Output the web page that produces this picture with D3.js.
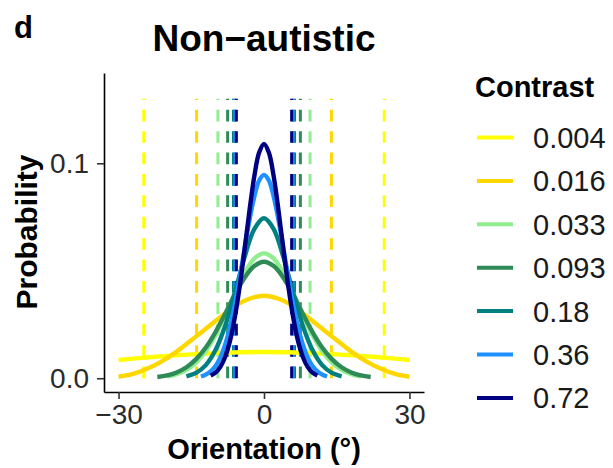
<!DOCTYPE html>
<html>
<head>
<meta charset="utf-8">
<script src="https://cdn.jsdelivr.net/npm/d3@7"></script>
<style>
  body { margin: 0; background: #fff; }
  text { font-family: "Liberation Sans", Arial, sans-serif; }
</style>
</head>
<body>
<div id="chart"></div>
<script>
// contrast levels, one curve + one pair of dashed lines per level
let contrasts = ["0.004", "0.016", "0.033", "0.093", "0.18", "0.36", "0.72"]
let colors = ["#FFFF00", "#FFD700", "#90EE90", "#2E8B57", "#008080", "#1E90FF", "#000080"]

// curve samples, one x list and one y list per contrast
let xs004 = [-30, -25, -20, -15, -10, -5, 0, 5, 10, 15, 20, 25, 30]
let ys004 = [0.0085, 0.0095, 0.0104, 0.0111, 0.0117, 0.0121, 0.0122, 0.0121, 0.0117, 0.0111, 0.0104, 0.0095, 0.0085]

let xs016 = [-30, -27, -24, -21, -18, -15, -12, -9, -6, -3, 0, 3, 6, 9, 12, 15, 18, 21, 24, 27, 30]
let ys016 = [0.0007, 0.0020, 0.0045, 0.0080, 0.0124, 0.0177, 0.0230, 0.0285, 0.0336, 0.0370, 0.0384,
             0.0370, 0.0336, 0.0285, 0.0230, 0.0177, 0.0124, 0.0080, 0.0045, 0.0020, 0.0007]

let xs033 = [-20, -18, -16, -14, -12, -10, -8, -6, -4, -2, 0, 2, 4, 6, 8, 10, 12, 14, 16, 18, 20]
let ys033 = [0.0008, 0.0019, 0.0039, 0.0073, 0.0126, 0.0201, 0.0295, 0.0397, 0.0490, 0.0557, 0.0581,
             0.0557, 0.0490, 0.0397, 0.0295, 0.0201, 0.0126, 0.0073, 0.0039, 0.0019, 0.0008]

let xs093 = [-22, -20, -18, -16, -14, -12, -10, -8, -6, -4, -2, 0, 2, 4, 6, 8, 10, 12, 14, 16, 18, 20, 22]
let ys093 = [0.0006, 0.0013, 0.0027, 0.0051, 0.0089, 0.0143, 0.0215, 0.0300, 0.0389, 0.0468, 0.0522, 0.0542,
             0.0522, 0.0468, 0.0389, 0.0300, 0.0215, 0.0143, 0.0089, 0.0051, 0.0027, 0.0013, 0.0006]

let xs18 = [-16, -14, -12, -10, -8, -6, -4, -2, 0, 2, 4, 6, 8, 10, 12, 14, 16]
let ys18 = [0.0009, 0.0025, 0.0061, 0.0131, 0.0244, 0.0398, 0.0563, 0.0694, 0.0744,
            0.0694, 0.0563, 0.0398, 0.0244, 0.0131, 0.0061, 0.0025, 0.0009]

let xs36 = [-13, -12, -11, -10, -9, -8, -7, -6, -5, -4, -3, -2, -1, 0, 1, 2, 3, 4, 5, 6, 7, 8, 9, 10, 11, 12, 13]
let ys36 = [0.0008, 0.0017, 0.0032, 0.0057, 0.0097, 0.0157, 0.0239, 0.0344, 0.0469, 0.0604, 0.0735, 0.0845, 0.0920, 0.0946,
            0.0920, 0.0845, 0.0735, 0.0604, 0.0469, 0.0344, 0.0239, 0.0157, 0.0097, 0.0057, 0.0032, 0.0017, 0.0008]

let xs72 = [-11, -10, -9, -8, -7, -6, -5, -4, -3, -2, -1, 0, 1, 2, 3, 4, 5, 6, 7, 8, 9, 10, 11]
let ys72 = [0.0012, 0.0026, 0.0053, 0.0100, 0.0175, 0.0285, 0.0429, 0.0600, 0.0779, 0.0939, 0.1050, 0.1090,
            0.1050, 0.0939, 0.0779, 0.0600, 0.0429, 0.0285, 0.0175, 0.0100, 0.0053, 0.0026, 0.0012]

// dashed threshold lines (± value), drawn from 0 up to dashTop
let thresholds = [24.8, 13.9, 9.5, 7.5, 6.3, 6.0, 5.7]
let dashTop = 0.13

let xTicks = [-30, 0, 30]
let yTicks = [0, 0.1]

let curveX = [xs004, xs016, xs033, xs093, xs18, xs36, xs72]
let curveY = [ys004, ys016, ys033, ys093, ys18, ys36, ys72]

let width = 613
let height = 468
let panel = {left: 104, right: 424, top: 73, bottom: 392}

let svg = d3.select('#chart')
    .append('svg')
    .attr('width', width)
    .attr('height', height)

svg.append('rect').attr('width', width).attr('height', height).attr('fill', '#fff')

let x = d3.scaleLinear().domain([-33, 33]).range([panel.left, panel.right])
let y = d3.scaleLinear().domain([-0.0064, 0.142]).range([panel.bottom, panel.top])

// dashed vertical lines first, curves go over them
let dashData = []
thresholds.forEach((t, i) => {
    dashData.push({x: -t, c: colors[i]})
    dashData.push({x: t, c: colors[i]})
})

svg.selectAll('.thr')
    .data(dashData)
    .enter()
        .append('line')
        .attr('class', 'thr')
        .attr('x1', d => x(d.x))
        .attr('x2', d => x(d.x))
        .attr('y1', y(0))
        .attr('y2', y(dashTop))
        .attr('stroke', d => d.c)
        .attr('stroke-width', 3)
        .attr('stroke-dasharray', '11.7,9.7')

let line = d3.line()
    .x(d => x(d[0]))
    .y(d => y(d[1]))
    .curve(d3.curveCatmullRom)

svg.selectAll('.curve')
    .data(contrasts)
    .enter()
        .append('path')
        .attr('class', 'curve')
        .attr('d', (d, i) => line(d3.zip(curveX[i], curveY[i])))
        .attr('fill', 'none')
        .attr('stroke', (d, i) => colors[i])
        .attr('stroke-width', 4.4)
        .attr('stroke-linecap', 'butt')

// axes, theme_classic style
let xAxis = svg.append('g')
    .attr('transform', `translate(0,${panel.bottom})`)
    .call(d3.axisBottom(x).tickValues(xTicks).tickSize(7).tickSizeOuter(0).tickFormat(d => d < 0 ? '\u2212' + Math.abs(d) : d))
let yAxis = svg.append('g')
    .attr('transform', `translate(${panel.left},0)`)
    .call(d3.axisLeft(y).tickValues(yTicks).tickSize(7).tickSizeOuter(0).tickFormat(d3.format('.1f')))

;[xAxis, yAxis].forEach(g => {
    g.select('.domain').attr('stroke', '#000').attr('stroke-width', 1.6)
    g.selectAll('.tick line').attr('stroke', '#333').attr('stroke-width', 1.6)
    g.selectAll('.tick text')
        .attr('fill', '#2b2b2b')
        .style('font-size', '28px')
        .style('font-family', '"Liberation Sans", Arial, sans-serif')
})
xAxis.selectAll('.tick text').attr('y', 12).attr('dy', '0.71em')
yAxis.selectAll('.tick text').attr('x', -15)

// titles
svg.append('text')
    .attr('x', 14).attr('y', 38)
    .style('font-size', '31px').style('font-weight', 'bold')
    .text('d')

svg.append('text')
    .attr('x', 264).attr('y', 51)
    .attr('text-anchor', 'middle')
    .style('font-size', '37px').style('font-weight', 'bold')
    .text('Non\u2212autistic')

svg.append('text')
    .attr('x', 264).attr('y', 459)
    .attr('text-anchor', 'middle')
    .style('font-size', '29px').style('font-weight', 'bold')
    .text('Orientation (°)')

svg.append('text')
    .attr('transform', 'translate(37,232) rotate(-90)')
    .attr('text-anchor', 'middle')
    .style('font-size', '30px').style('font-weight', 'bold')
    .text('Probability')

// legend
let legend = svg.append('g')
legend.append('text')
    .attr('x', 475).attr('y', 97)
    .style('font-size', '29px').style('font-weight', 'bold')
    .text('Contrast')

let items = legend.selectAll('.key')
    .data(contrasts)
    .enter()
        .append('g')
        .attr('class', 'key')
        .attr('transform', (d, i) => `translate(0,${137.5 + i * 43.4})`)

items.append('line')
    .attr('x1', 477).attr('x2', 513)
    .attr('stroke', (d, i) => colors[i])
    .attr('stroke-width', 4)

items.append('text')
    .attr('x', 533).attr('dy', '0.36em')
    .attr('fill', '#1a1a1a')
    .style('font-size', '29px')
    .text(d => d)
</script>
</body>
</html>
